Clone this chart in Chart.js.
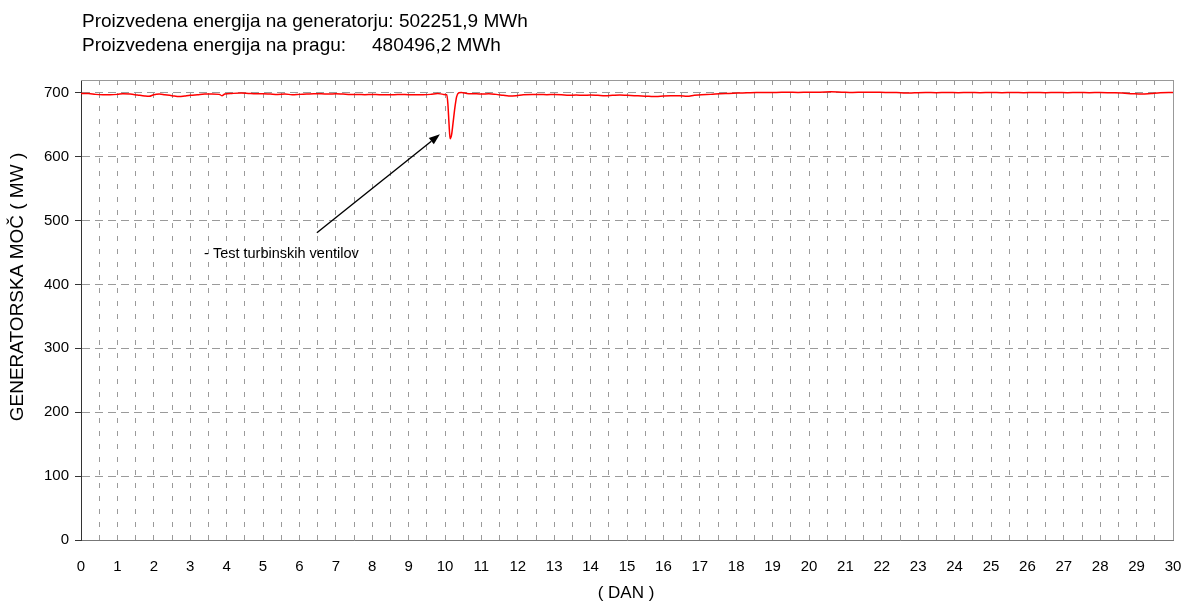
<!DOCTYPE html>
<html>
<head>
<meta charset="utf-8">
<title>Generatorska moč</title>
<script src="https://cdn.jsdelivr.net/npm/chart.js@4.4.1/dist/chart.umd.min.js"></script>
<style>
  html, body { margin: 0; padding: 0; background: #fff; }
  #wrap { width: 1188px; height: 602px; }
</style>
</head>
<body>
<div id="wrap"><canvas id="myChart" width="1188" height="602"></canvas></div>
<script>
// day of month (x) and generator power in MW (y)
const days = [
  0.00, 0.20, 0.40, 0.60, 0.80, 1.00, 1.15, 1.35, 1.55, 1.75, 1.87, 2.00, 2.15, 2.30, 2.50, 2.70, 2.85,
  3.00, 3.20, 3.40, 3.60, 3.80, 3.87, 3.95, 4.15, 4.40, 4.60, 4.80, 5.00, 5.20, 5.40, 5.60, 5.80,
  6.00, 6.20, 6.40, 6.60, 6.80, 7.00, 7.20, 7.40, 7.60, 7.80, 8.00, 8.20, 8.40, 8.60, 8.80,
  9.00, 9.20, 9.40, 9.60, 9.80, 9.95, 10.05, 10.08, 10.11, 10.14, 10.18, 10.22, 10.27, 10.32, 10.38,
  10.45, 10.60, 10.80, 11.00, 11.20, 11.40, 11.60, 11.75, 11.95, 12.15, 12.40, 12.60, 12.80,
  13.00, 13.20, 13.40, 13.60, 13.80, 14.00, 14.20, 14.40, 14.60, 14.80, 15.00, 15.20, 15.40,
  15.60, 15.80, 16.00, 16.20, 16.45, 16.65, 16.85, 17.05, 17.30, 17.55, 17.80, 18.05, 18.30,
  18.55, 18.80, 19.10, 19.40, 19.70, 20.00, 20.30, 20.60, 20.90, 21.20, 21.50, 21.80, 22.10,
  22.40, 22.65, 22.90, 23.20, 23.50, 23.80, 24.10, 24.40, 24.70, 25.00, 25.30, 25.60, 25.90,
  26.20, 26.50, 26.80, 27.10, 27.40, 27.70, 28.00, 28.30, 28.60, 28.90, 29.15, 29.40, 29.65, 30.00
];
const powerMW = [
  699, 699, 697.5, 697, 697, 697.5, 698.5, 698, 696.5, 695, 694.5, 697, 698, 697, 695.5, 694, 695,
  696, 697, 698, 698, 697.5, 695.5, 698, 699, 699.5, 699, 698.5, 698.5, 698, 697.5, 698, 697,
  697.5, 698, 698.5, 698.5, 698, 698.5, 698, 697.5, 697.5, 697, 697.5, 697, 697, 697, 697.5,
  697, 697, 697, 697.5, 699, 697.5, 697, 682, 652, 628, 634, 652, 676, 694, 700,
  700.5, 699, 698.5, 698, 698.5, 697.5, 696, 695, 695.5, 697, 697.5, 697.5, 697,
  697.5, 697, 696, 696.5, 696, 696.5, 696, 695.5, 696, 696.5, 696, 695.5, 695,
  694.5, 694, 695, 695.5, 695.5, 694.5, 696, 697, 697.5, 698.5, 699, 699.5, 700,
  700.5, 700.5, 700.5, 701, 700.5, 701, 701, 701.5, 701, 700.5, 701, 701, 700.5,
  700.5, 699.5, 700, 700.5, 700, 700.5, 700, 700.5, 700, 700.5, 700, 700.5, 700,
  700.5, 700, 700.5, 700, 700.5, 700, 700.5, 700, 699.5, 698.5, 698, 699, 700, 700.5
];

const xTickLabels = [0, 1, 2, 3, 4, 5, 6, 7, 8, 9, 10, 11, 12, 13, 14, 15, 16, 17, 18, 19, 20,
  21, 22, 23, 24, 25, 26, 27, 28, 29, 30];
const yTickLabels = [0, 100, 200, 300, 400, 500, 600, 700];

const headerLabel1 = 'Proizvedena energija na generatorju:';
const headerValue1 = '502251,9 MWh';
const headerLabel2 = 'Proizvedena energija na pragu:';
const headerValue2 = '480496,2 MWh';
const yTitle = 'GENERATORSKA MOČ ( MW )';
const xTitle = '( DAN )';
const noteText = '- Test turbinskih ventilov';
// note + arrow anchored in data units (day, MW)
const noteAt = {x: 3.38, y: 442};
const arrowFrom = {x: 6.48, y: 481};
const arrowTo = {x: 9.86, y: 635};

const FONT = '"Liberation Sans", Arial, sans-serif';
Chart.defaults.font.family = FONT;
Chart.defaults.color = '#000';

const extras = {
  id: 'extras',
  afterDraw(chart) {
    const {ctx, chartArea: a, scales: {x, y}} = chart;
    ctx.save();

    // top and right frame of the plot area
    ctx.strokeStyle = '#999';
    ctx.lineWidth = 1;
    ctx.beginPath();
    ctx.moveTo(a.left, Math.round(a.top) + 0.5);
    ctx.lineTo(Math.round(a.right) + 0.5, Math.round(a.top) + 0.5);
    ctx.lineTo(Math.round(a.right) + 0.5, a.bottom);
    ctx.stroke();

    ctx.fillStyle = '#000';
    ctx.textBaseline = 'alphabetic';
    ctx.textAlign = 'left';
    ctx.font = '19px ' + FONT;
    ctx.fillText(headerLabel1 + ' ' + headerValue1, 82, 27);
    ctx.fillText(headerLabel2, 82, 51);
    ctx.fillText(headerValue2, 372, 51);

    // axis titles
    ctx.textAlign = 'center';
    ctx.textBaseline = 'middle';
    ctx.font = '17px ' + FONT;
    ctx.fillText(xTitle, 626, 593);
    ctx.save();
    ctx.translate(18, 287);
    ctx.rotate(-Math.PI / 2);
    ctx.font = '19px ' + FONT;
    ctx.fillText(yTitle, 0, 0);
    ctx.restore();

    // note text
    ctx.textAlign = 'left';
    ctx.textBaseline = 'alphabetic';
    ctx.font = '14.5px ' + FONT;
    ctx.fillText(noteText, x.getPixelForValue(noteAt.x), y.getPixelForValue(noteAt.y));

    // arrow
    const x0 = x.getPixelForValue(arrowFrom.x), y0 = y.getPixelForValue(arrowFrom.y);
    const x1 = x.getPixelForValue(arrowTo.x), y1 = y.getPixelForValue(arrowTo.y);
    const ang = Math.atan2(y1 - y0, x1 - x0);
    const head = 11, half = 4;
    ctx.strokeStyle = '#000';
    ctx.lineWidth = 1.4;
    ctx.beginPath();
    ctx.moveTo(x0, y0);
    ctx.lineTo(x1 - head * Math.cos(ang), y1 - head * Math.sin(ang));
    ctx.stroke();
    ctx.beginPath();
    ctx.moveTo(x1, y1);
    ctx.lineTo(x1 - head * Math.cos(ang) + half * Math.sin(ang), y1 - head * Math.sin(ang) - half * Math.cos(ang));
    ctx.lineTo(x1 - head * Math.cos(ang) - half * Math.sin(ang), y1 - head * Math.sin(ang) + half * Math.cos(ang));
    ctx.closePath();
    ctx.fill();

    ctx.restore();
  }
};

const ctx = document.getElementById('myChart');
new Chart(ctx, {
  type: 'line',
  data: {
    datasets: [{
      label: 'Generatorska moč',
      data: days.map((d, i) => ({x: d, y: powerMW[i]})),
      borderColor: '#ff0000',
      borderWidth: 1.5,
      pointRadius: 0,
      cubicInterpolationMode: 'monotone',
      fill: false
    }]
  },
  options: {
    responsive: false,
    animation: false,
    layout: { padding: { top: 80, right: 15, left: 0, bottom: 0 } },
    plugins: {
      legend: { display: false },
      tooltip: { enabled: false }
    },
    scales: {
      x: {
        type: 'linear',
        min: 0,
        max: 30,
        afterBuildTicks: (scale) => {
          const t = [];
          xTickLabels.forEach((v, i) => {
            t.push({value: v});
            if (i < xTickLabels.length - 1) t.push({value: v + 0.5});
          });
          scale.ticks = t;
        },
        afterFit: (scale) => {
          scale.height = 62;
          // the label padding would otherwise shrink the plot on the right
          scale.paddingLeft = 0;
          scale.paddingRight = 0;
        },
        ticks: {
          autoSkip: false,
          maxRotation: 0,
          padding: 18,
          font: { size: 15 },
          callback: (v) => Number.isInteger(v) ? String(v) : ''
        },
        grid: {
          color: '#9a9a9a',
          lineWidth: 1,
          drawTicks: false
        },
        border: { color: '#777', width: 1, dash: [5, 8] }
      },
      y: {
        min: 0,
        max: 720,
        afterBuildTicks: (scale) => { scale.ticks = yTickLabels.map(v => ({value: v})); },
        afterFit: (scale) => { scale.width = 81; },
        ticks: {
          padding: 6,
          font: { size: 15 }
        },
        grid: {
          color: '#9a9a9a',
          lineWidth: 1,
          tickLength: 6,
          tickColor: '#333'
        },
        border: { color: '#333', width: 1, dash: [8, 5] }
      }
    }
  },
  plugins: [extras]
});
</script>
</body>
</html>
